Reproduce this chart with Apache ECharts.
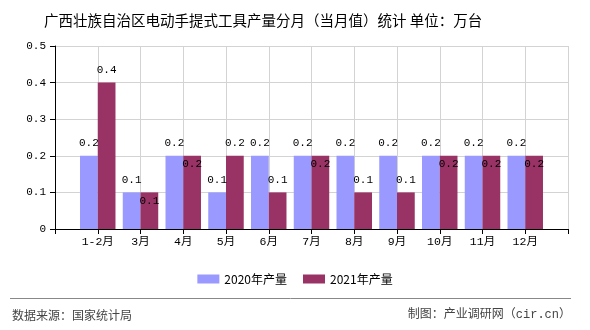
<!DOCTYPE html>
<html>
<head>
<meta charset="utf-8">
<script src="https://cdn.jsdelivr.net/npm/echarts@6/dist/echarts.min.js"></script>
<style>
html,body{margin:0;padding:0;background:#fff;}
#chart{width:590px;height:330px;}
</style>
</head>
<body>
<div id="chart"></div>
<script>
const titleText = '广西壮族自治区电动手提式工具产量分月（当月值）统计 单位：万台';
const months = ['1-2月', '3月', '4月', '5月', '6月', '7月', '8月', '9月', '10月', '11月', '12月'];
const values2020 = [0.2, 0.1, 0.2, 0.1, 0.2, 0.2, 0.2, 0.2, 0.2, 0.2, 0.2];
const values2021 = [0.4, 0.1, 0.2, 0.2, 0.1, 0.2, 0.1, 0.1, 0.2, 0.2, 0.2];
const seriesNames = ['2020年产量', '2021年产量'];
const yTicks = [0, 0.1, 0.2, 0.3, 0.4, 0.5];
const sourceText = '数据来源：国家统计局';
const creditText = '制图：产业调研网（cir.cn）';

const monoFont = '"Liberation Mono", "Noto Sans CJK SC", monospace';
const sansFont = '"Noto Sans CJK SC", "Noto Sans", sans-serif';

// axis has an empty slot at each end; bars sit on the inner category points
const categories = [''].concat(months, ['']);
const pad = arr => [null].concat(arr, [null]);

const labelAbove = {show: true, position: 'top', distance: 7, color: '#000', fontFamily: monoFont, fontSize: 11};
const labelInside = {show: true, position: 'insideTop', distance: 3, color: '#000', fontFamily: monoFont, fontSize: 11};

const data2020 = pad(values2020);
const data2021 = pad(values2021.map((v, i) => ({
  value: v,
  label: v === values2020[i] ? labelInside : labelAbove
})));

const chart = echarts.init(document.getElementById('chart'), null, {renderer: 'canvas'});
chart.setOption({
  animation: false,
  backgroundColor: '#fff',
  title: {
    text: titleText,
    left: 39,
    top: 8,
    textStyle: {fontFamily: sansFont, fontSize: 14.5, fontWeight: 'normal', color: '#000'}
  },
  legend: {
    data: seriesNames,
    left: 'center',
    top: 268,
    itemWidth: 22,
    itemHeight: 9,
    itemGap: 16,
    icon: 'rect',
    textStyle: {fontFamily: sansFont, fontSize: 12, color: '#000'}
  },
  grid: {left: 55, right: 22, top: 46, bottom: 101, containLabel: false},
  xAxis: {
    type: 'category',
    data: categories,
    boundaryGap: false,
    axisLine: {lineStyle: {color: '#000', width: 1}},
    axisTick: {show: true, interval: 0, length: 5, lineStyle: {color: '#000'}},
    axisLabel: {interval: 0, margin: 7, color: '#000', fontFamily: monoFont, fontSize: 11.5},
    splitLine: {show: true, interval: 0, lineStyle: {color: '#d3d3d3', width: 1}}
  },
  yAxis: {
    type: 'value',
    min: yTicks[0],
    max: yTicks[yTicks.length - 1],
    interval: 0.1,
    axisLine: {show: true, lineStyle: {color: '#000', width: 1}},
    axisTick: {show: true, length: 5, lineStyle: {color: '#000'}},
    axisLabel: {margin: 9, color: '#000', fontFamily: monoFont, fontSize: 11,
      formatter: v => String(Math.round(v * 10) / 10)},
    splitLine: {show: true, lineStyle: {color: '#d3d3d3', width: 1}}
  },
  series: [
    {
      name: seriesNames[0],
      type: 'bar',
      data: data2020,
      barGap: '0%',
      barCategoryGap: '17%',
      itemStyle: {color: '#9999ff'},
      label: labelAbove
    },
    {
      name: seriesNames[1],
      type: 'bar',
      data: data2021,
      barGap: '0%',
      barCategoryGap: '17%',
      itemStyle: {color: '#993366'},
      label: labelAbove
    }
  ],
  graphic: [
    {type: 'line', shape: {x1: 10, y1: 298.5, x2: 571, y2: 298.5}, style: {stroke: '#888', lineWidth: 1}},
    {type: 'text', left: 12, top: 309, style: {text: sourceText, fill: '#444', font: '12px ' + sansFont}},
    {type: 'text', right: 19, top: 309, style: {text: creditText, fill: '#444', font: '12px ' + monoFont}}
  ]
});
</script>
</body>
</html>
